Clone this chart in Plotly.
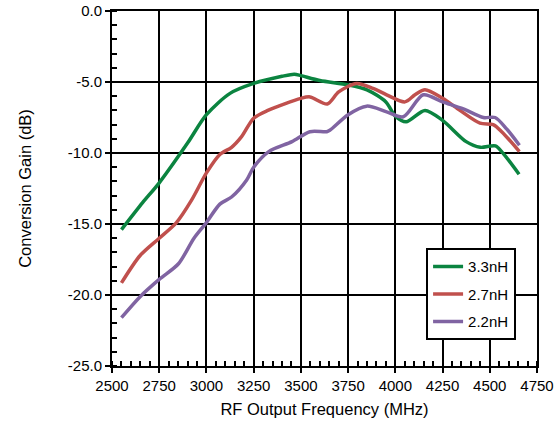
import plotly.graph_objects as go

freq_33 = [2550, 2662, 2750, 2900, 3000, 3125, 3250, 3400, 3465, 3500, 3600, 3750, 3850, 3950, 4000, 4057, 4157, 4250, 4375, 4450, 4530, 4575, 4655]
gain_33 = [-15.4, -13.5, -12.1, -9.3, -7.3, -5.8, -5.1, -4.6, -4.45, -4.55, -4.9, -5.2, -5.55, -6.4, -7.4, -7.8, -7.0, -7.7, -9.2, -9.6, -9.5, -10.1, -11.5]

freq_27 = [2550, 2650, 2750, 2841, 2922, 3000, 3071, 3133, 3186, 3250, 3325, 3500, 3548, 3640, 3700, 3795, 3882, 3954, 4051, 4104, 4157, 4250, 4342, 4448, 4518, 4563, 4657]
gain_27 = [-19.15, -17.2, -16.0, -14.9, -13.3, -11.4, -10.1, -9.6, -8.85, -7.55, -7.0, -6.15, -6.05, -6.55, -5.7, -5.1, -5.45, -5.9, -6.4, -5.9, -5.55, -6.15, -7.0, -7.9, -8.0, -8.5, -9.9]

freq_22 = [2550, 2650, 2750, 2852, 2934, 3000, 3071, 3133, 3213, 3250, 3330, 3453, 3548, 3637, 3653, 3750, 3848, 3954, 4042, 4148, 4250, 4360, 4466, 4528, 4589, 4657]
gain_22 = [-21.6, -20.1, -18.9, -17.8, -16.0, -14.9, -13.6, -13.1, -11.9, -11.0, -9.9, -9.2, -8.5, -8.5, -8.4, -7.3, -6.7, -7.1, -7.45, -5.9, -6.4, -6.9, -7.5, -7.5, -8.3, -9.45]

series = [
    ("3.3nH", freq_33, gain_33, "#0B8440"),
    ("2.7nH", freq_27, gain_27, "#C0504D"),
    ("2.2nH", freq_22, gain_22, "#8064A2"),
]

x_ticks = [2500, 2750, 3000, 3250, 3500, 3750, 4000, 4250, 4500, 4750]
y_ticks = [0, -5, -10, -15, -20, -25]

fig = go.Figure()
for name, xs, ys, col in series:
    fig.add_trace(go.Scatter(x=xs, y=ys, name=name, mode="lines", legendgroup=name,
                             line=dict(color=col, width=3.5, shape="spline", smoothing=0.8)))

FAM = "Liberation Sans, Arial, sans-serif"
fig.update_layout(
    width=558, height=425,
    margin=dict(l=112, r=21, t=11, b=59),
    paper_bgcolor="white", plot_bgcolor="white",
    font=dict(family=FAM, size=15, color="#000"),
    showlegend=True,
    legend=dict(x=0.739, y=0.332, xanchor="left", yanchor="top",
                bordercolor="black", borderwidth=2, bgcolor="white",
                font=dict(family=FAM, size=15, color="#000"),
                itemwidth=30, tracegroupgap=5),
)
fig.update_xaxes(
    range=[2500, 4750], tickvals=x_ticks, ticktext=[str(v) for v in x_ticks],
    showgrid=True, gridcolor="black", gridwidth=2,
    showline=True, linecolor="black", linewidth=2, mirror=True,
    ticks="outside", ticklen=5, tickwidth=2, tickcolor="black",
    minor=dict(dtick=50, ticks="inside", ticklen=5, tickwidth=1.5, tickcolor="black", showgrid=False),
    title=dict(text="RF Output Frequency (MHz)", font=dict(size=16.5), standoff=10),
    zeroline=False, automargin=False,
)
fig.update_yaxes(
    range=[-25, 0], tickvals=y_ticks, ticktext=["%.1f" % v for v in y_ticks],
    showgrid=True, gridcolor="black", gridwidth=2,
    showline=True, linecolor="black", linewidth=2, mirror=True,
    ticks="outside", ticklen=5, tickwidth=2, tickcolor="black",
    minor=dict(dtick=1, ticks="inside", ticklen=5, tickwidth=1.5, tickcolor="black", showgrid=False),
    title=dict(text="Conversion Gain (dB)", font=dict(size=16.5), standoff=32),
    zeroline=False, automargin=False,
)
fig.write_html("out.html", config={"displayModeBar": False},
               post_script="document.body.style.margin='0';")
